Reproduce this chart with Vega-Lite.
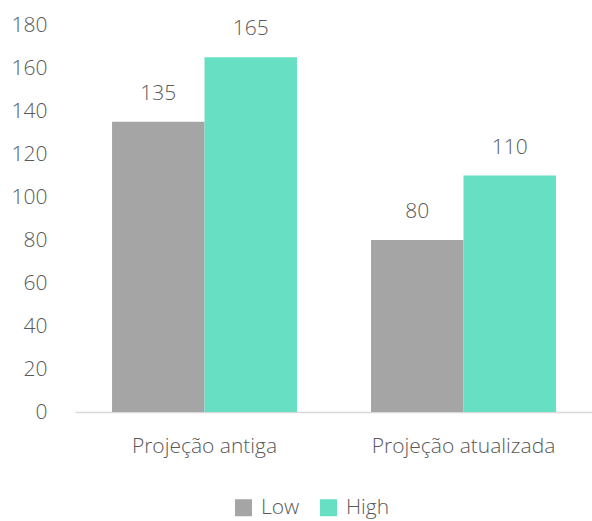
{
  "$schema": "https://vega.github.io/schema/vega-lite/v6.json",
  "autosize": "none",
  "width": 518,
  "height": 387,
  "padding": {"left": 75, "top": 25, "right": 0, "bottom": 109},
  "background": "white",
  "config": {
    "view": {"stroke": null},
    "font": "Open Sans",
    "text": {"font": "Open Sans"}
  },
  "data": {
    "values": [
      {"cat": "Projeção antiga", "serie": "Low", "value": 135},
      {"cat": "Projeção antiga", "serie": "High", "value": 165},
      {"cat": "Projeção atualizada", "serie": "Low", "value": 80},
      {"cat": "Projeção atualizada", "serie": "High", "value": 110}
    ]
  },
  "encoding": {
    "x": {
      "field": "cat", "type": "nominal", "sort": null,
      "scale": {"paddingInner": 0.286, "paddingOuter": 0.143},
      "axis": {
        "title": null, "labelAngle": 0, "ticks": false,
        "labelLimit": 400, "labelOverlap": false, "labelBound": false,
        "domainColor": "#d9d9d9", "domainWidth": 1.3,
        "labelFont": "Open Sans", "labelFontWeight": 300, "labelFontSize": 21,
        "labelColor": "#595959", "labelPadding": 23
      }
    },
    "xOffset": {"field": "serie", "type": "nominal", "sort": ["Low", "High"], "scale": {"paddingInner": 0, "paddingOuter": 0}},
    "y": {
      "field": "value", "type": "quantitative",
      "scale": {"domain": [0, 180], "nice": false},
      "axis": {
        "title": null, "values": [0, 20, 40, 60, 80, 100, 120, 140, 160, 180],
        "grid": false, "domain": false, "ticks": false,
        "labelFont": "Open Sans", "labelFontWeight": 300, "labelFontSize": 21,
        "labelColor": "#595959", "labelPadding": 28
      }
    }
  },
  "layer": [
    {
      "mark": {"type": "bar"},
      "encoding": {
        "color": {
          "field": "serie", "type": "nominal", "sort": ["Low", "High"],
          "scale": {"domain": ["Low", "High"], "range": ["#a5a5a5", "#66dfc3"]},
          "legend": {
            "title": null, "orient": "none", "direction": "horizontal",
            "legendX": 158, "legendY": 472,
            "symbolType": "square", "symbolSize": 289, "symbolStrokeWidth": 0,
            "labelFont": "Open Sans", "labelFontWeight": 300, "labelFontSize": 21,
            "labelColor": "#595959", "labelOffset": 7, "columnPadding": 18
          }
        }
      }
    },
    {
      "mark": {"type": "text", "dy": -28, "font": "Open Sans", "fontWeight": 300, "fontSize": 21, "color": "#595959"},
      "encoding": {
        "text": {"field": "value", "type": "quantitative"}
      }
    }
  ]
}
